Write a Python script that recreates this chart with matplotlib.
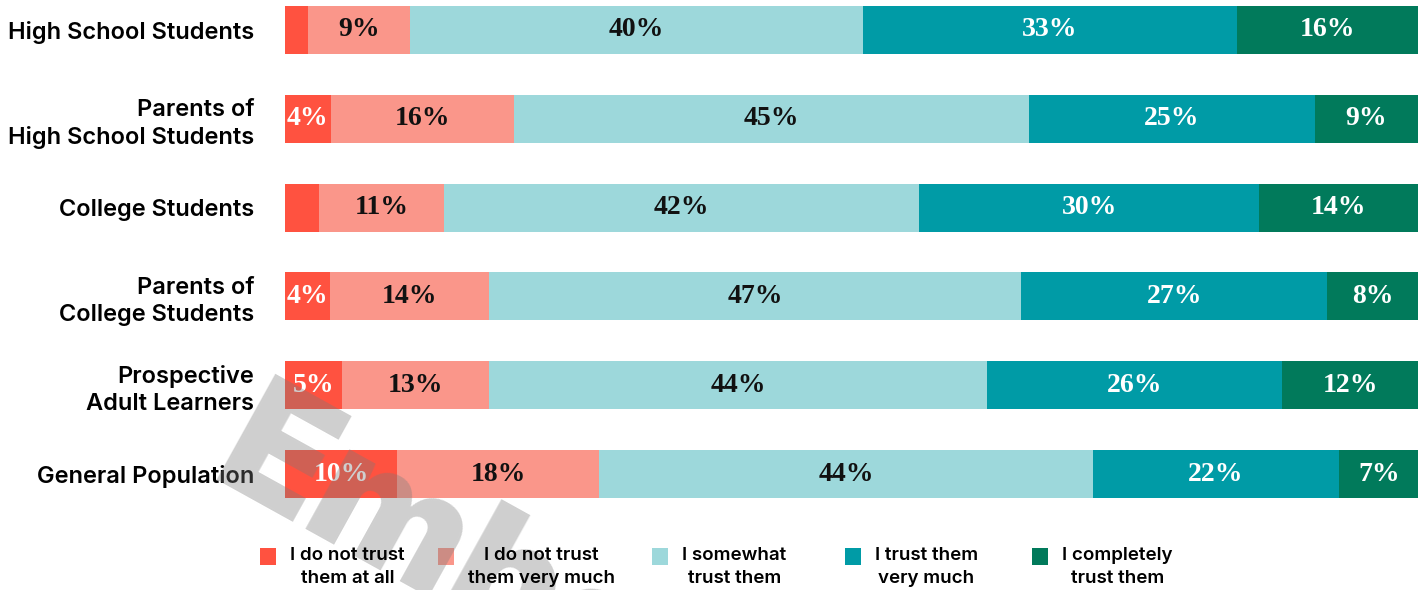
import numpy as np
import matplotlib
matplotlib.use('Agg')
import matplotlib.pyplot as plt
from matplotlib.patches import Rectangle

# Data
groups = ['High School Students', 'Parents of\nHigh School Students', 'College Students',
          'Parents of\nCollege Students', 'Prospective\nAdult Learners', 'General Population']
answers = ['I do not trust\nthem at all', 'I do not trust\nthem very much', 'I somewhat\ntrust them',
           'I trust them\nvery much', 'I completely\ntrust them']
not_at_all = [2, 4, 3, 4, 5, 10]
not_very_much = [9, 16, 11, 14, 13, 18]
somewhat = [40, 45, 42, 47, 44, 44]
very_much = [33, 25, 30, 27, 26, 22]
completely = [16, 9, 14, 8, 12, 7]

colors = ['#FF5240', '#FA968A', '#9DD8DB', '#009BA6', '#017A5B']
label_colors = ['white', '#111111', '#111111', 'white', 'white']

series = np.array([not_at_all, not_very_much, somewhat, very_much, completely], dtype=float)
shares = series / series.sum(axis=0) * 100

W, H = 1421, 590
fig = plt.figure(figsize=(W / 100, H / 100), dpi=100)
ax = fig.add_axes([285 / W, 1 - 498 / H, 1133 / W, 492 / H])

bar_h = 0.54
ypos = np.arange(len(groups))
left = np.zeros(len(groups))
for k in range(len(answers)):
    bars = ax.barh(ypos, shares[k], left=left, height=bar_h, color=colors[k], zorder=1)
    for i, b in enumerate(bars):
        v = series[k][i]
        if v >= 4:
            ax.text(b.get_x() + b.get_width() / 2, ypos[i], '%d%%' % v,
                    ha='center', va='center', color=label_colors[k], zorder=1.5,
                    fontsize=20, fontweight='bold', family='Liberation Serif')
    left += shares[k]

ax.set_xlim(0, 100)
ax.set_ylim(len(groups) - 1 + bar_h / 2, -bar_h / 2)
ax.set_yticks(ypos)
ax.set_yticklabels(groups, fontsize=17, fontweight='semibold', family='Inter',
                   multialignment='right', linespacing=1.3)
ax.tick_params(axis='y', length=0, pad=22)
ax.set_xticks([])
for s in ax.spines.values():
    s.set_visible(False)

# Legend, drawn by hand to follow the reference spacing
legend_px = [260, 438, 652, 845, 1032]
for k, lab in enumerate(answers):
    x0 = legend_px[k]
    ax.add_patch(Rectangle((x0 / W, 1 - 565 / H), 16 / W, 17 / H, transform=fig.transFigure,
                           color=colors[k], lw=0, clip_on=False, zorder=1))
    fig.text((x0 + 30) / W, 1 - 547 / H, lab, ha='left', va='top', multialignment='center',
             fontsize=13.5, fontweight='semibold', family='Inter', linespacing=1.45)

# Watermark (above bars, below the category labels and legend text)
ax.text(0.335, 0.02, 'Embaz', transform=fig.transFigure, fontsize=120, fontweight='black',
        family='Inter', color='#7a7a7a', alpha=0.36, rotation=-29,
        ha='center', va='center', zorder=2)

fig.savefig('out.png', dpi=100)
